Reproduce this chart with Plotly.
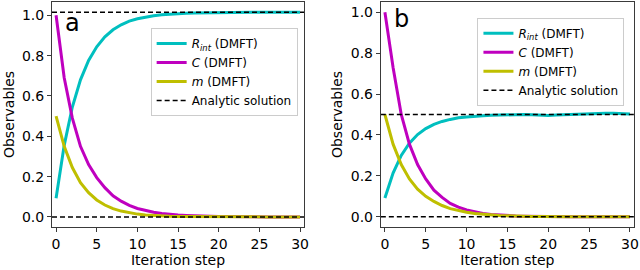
import plotly.graph_objects as go

steps = list(range(31))

# Panel a
rint_a = [0.093, 0.355, 0.545, 0.680, 0.776, 0.844, 0.893, 0.928, 0.953, 0.971, 0.983,
          0.992, 0.998, 1.003, 1.006, 1.008, 1.010, 1.011, 1.012, 1.013, 1.013,
          1.014, 1.014, 1.014, 1.015, 1.015, 1.015, 1.015, 1.015, 1.015, 1.015]
c_a = [1.0, 0.69, 0.49, 0.35, 0.26, 0.195, 0.145, 0.105, 0.078, 0.057, 0.042,
       0.031, 0.023, 0.017, 0.012, 0.009, 0.007, 0.005, 0.004, 0.003, 0.002,
       0.002, 0.001, 0.001, 0.001, 0.0, 0.0, 0.0, 0.0, 0.0, 0.0]
m_a = [0.50, 0.35, 0.245, 0.17, 0.12, 0.084, 0.059, 0.041, 0.029, 0.020, 0.014,
       0.010, 0.007, 0.005, 0.0035, 0.0025, 0.002, 0.001, 0.001, 0.0005, 0.0,
       0.0, 0.0, 0.0, 0.0, 0.0, 0.0, 0.0, 0.0, 0.0, 0.0]
analytic_a = [1.015, 0.0]

# Panel b
rint_b = [0.092, 0.214, 0.300, 0.360, 0.402, 0.431, 0.452, 0.466, 0.476, 0.484, 0.488,
          0.492, 0.494, 0.496, 0.497, 0.500, 0.501, 0.500, 0.499, 0.497, 0.495,
          0.497, 0.499, 0.500, 0.501, 0.502, 0.504, 0.506, 0.506, 0.503, 0.503]
c_b = [1.0, 0.73, 0.50, 0.355, 0.255, 0.185, 0.13, 0.095, 0.065, 0.047, 0.033,
       0.023, 0.016, 0.011, 0.008, 0.006, 0.004, 0.003, 0.002, 0.0015, 0.001,
       0.001, 0.0, 0.0, 0.0, 0.0, 0.0, 0.0, 0.0, 0.0, 0.0]
m_b = [0.50, 0.355, 0.255, 0.185, 0.135, 0.10, 0.075, 0.055, 0.040, 0.030, 0.022,
       0.016, 0.012, 0.009, 0.006, 0.005, 0.003, 0.002, 0.0015, 0.001, 0.0,
       0.0, 0.0, 0.0, 0.0, 0.0, 0.0, 0.0, 0.0, 0.0, 0.0]
analytic_b = [0.5, 0.0]

xlim = [-0.5, 30.5]
ylim_a = [-0.05, 1.066]
ylim_b = [-0.05, 1.05]
xticks = [0, 5, 10, 15, 20, 25, 30]
yticks = [0.0, 0.2, 0.4, 0.6, 0.8, 1.0]
panel_labels = ["a", "b"]

CYAN = "#00bfbf"
MAG = "#bf00bf"
YEL = "#bfbf00"
FONT = "DejaVu Sans"

fig = go.Figure()

def add_panel(xa, ya, leg, rint, c, m, analytic):
    fig.add_trace(go.Scatter(x=steps, y=rint, mode="lines", line=dict(color=CYAN, width=3),
                             name="<i>R</i><sub><i>int</i></sub> (DMFT)", xaxis=xa, yaxis=ya, legend=leg))
    fig.add_trace(go.Scatter(x=steps, y=c, mode="lines", line=dict(color=MAG, width=3),
                             name="<i>C</i> (DMFT)", xaxis=xa, yaxis=ya, legend=leg))
    fig.add_trace(go.Scatter(x=steps, y=m, mode="lines", line=dict(color=YEL, width=3),
                             name="<i>m</i> (DMFT)", xaxis=xa, yaxis=ya, legend=leg))
    ax_x, ax_y = [], []
    for v in analytic:
        ax_x += [xlim[0], xlim[1], None]
        ax_y += [v, v, None]
    fig.add_trace(go.Scatter(x=ax_x, y=ax_y, mode="lines",
                             line=dict(color="black", width=1.5, dash="5px,3px"),
                             name="Analytic solution", xaxis=xa, yaxis=ya, legend=leg))

add_panel("x", "y", "legend", rint_a, c_a, m_a, analytic_a)
add_panel("x2", "y2", "legend2", rint_b, c_b, m_b, analytic_b)

axis_common = dict(showline=True, mirror=True, linecolor="#3a3a3a", linewidth=1,
                   ticks="outside", ticklen=4, tickwidth=1, tickcolor="#3a3a3a",
                   showgrid=False, zeroline=False,
                   tickfont=dict(family=FONT, size=14, color="black"))

fig.update_layout(
    width=640, height=270,
    margin=dict(l=52, r=4, t=1, b=43),
    plot_bgcolor="white", paper_bgcolor="white",
    font=dict(family=FONT, size=14, color="black"),
    xaxis=dict(domain=[0, 0.4332], range=xlim, tickvals=xticks, anchor="y",
               title=dict(text="Iteration step", standoff=4, font=dict(size=14)), **axis_common),
    yaxis=dict(range=ylim_a, tickvals=yticks, tickformat=".1f", anchor="x",
               title=dict(text="Observables", standoff=4, font=dict(size=14)), **axis_common),
    xaxis2=dict(domain=[0.565, 1.0], range=xlim, tickvals=xticks, anchor="y2",
                title=dict(text="Iteration step", standoff=4, font=dict(size=14)), **axis_common),
    yaxis2=dict(range=ylim_b, tickvals=yticks, tickformat=".1f", anchor="x2",
                title=dict(text="Observables", standoff=4, font=dict(size=14)), **axis_common),
    legend=dict(x=0.1695, y=0.885, xanchor="left", yanchor="top", itemwidth=30,
                bgcolor="rgba(255,255,255,0.8)", bordercolor="#cccccc", borderwidth=1,
                font=dict(family=FONT, size=12, color="black"), tracegroupgap=0),
    legend2=dict(x=0.731, y=0.93, xanchor="left", yanchor="top", itemwidth=30,
                 bgcolor="rgba(255,255,255,0.8)", bordercolor="#cccccc", borderwidth=1,
                 font=dict(family=FONT, size=12, color="black"), tracegroupgap=0),
    showlegend=True,
)

fig.add_annotation(text=panel_labels[0], xref="x domain", yref="y domain", x=0.045, y=0.98,
                   xanchor="left", yanchor="top", showarrow=False,
                   font=dict(family=FONT, size=24, color="black"))
fig.add_annotation(text=panel_labels[1], xref="x2 domain", yref="y2 domain", x=0.045, y=0.995,
                   xanchor="left", yanchor="top", showarrow=False,
                   font=dict(family=FONT, size=24, color="black"))

fig.write_html("out.html", config={"displayModeBar": False},
               post_script="document.body.style.margin='0';")
